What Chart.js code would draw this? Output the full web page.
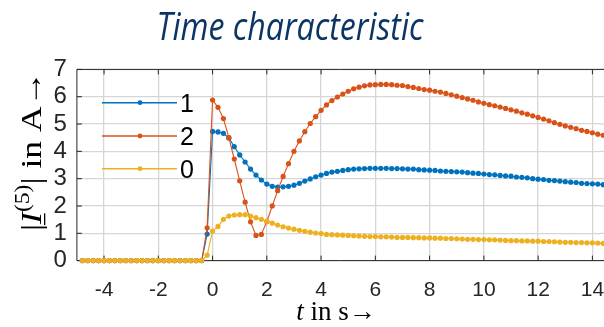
<!DOCTYPE html>
<html><head><meta charset="utf-8">
<script src="https://cdn.jsdelivr.net/npm/chart.js@4/dist/chart.umd.min.js"></script>
<style>html,body{margin:0;padding:0;background:#fff;overflow:hidden}canvas{display:block}</style>
</head><body>
<canvas id="c" width="604" height="327"></canvas>
<script>
// ---- data ----
const timeS = [-4.8,-4.6,-4.4,-4.2,-4.0,-3.8,-3.6,-3.4,-3.2,-3.0,-2.8,-2.6,-2.4,-2.2,-2.0,-1.8,-1.6,-1.4,-1.2,-1.0,-0.8,-0.6,-0.4,
  -0.2,0.0,0.2,0.4,0.6,0.8,1.0,1.2,1.4,1.6,1.8,2.0,2.2,2.4,2.6,2.8,3.0,3.2,3.4,3.6,3.8,4.0,4.2,4.4,4.6,4.8,5.0,
  5.2,5.4,5.6,5.8,6.0,6.2,6.4,6.6,6.8,7.0,7.2,7.4,7.6,7.8,8.0,8.2,8.4,8.6,8.8,9.0,9.2,9.4,9.6,9.8,10.0,
  10.2,10.4,10.6,10.8,11.0,11.2,11.4,11.6,11.8,12.0,12.2,12.4,12.6,12.8,13.0,13.2,13.4,13.6,13.8,14.0,14.2,14.4];
const seriesNames = ['1', '2', '0'];
const current1 = [0,0,0,0,0,0,0,0,0,0,0,0,0,0,0,0,0,0,0,0,0,0,0,
  0.97,4.73,4.71,4.66,4.49,4.17,3.87,3.61,3.35,3.13,2.95,2.80,2.72,2.69,2.70,2.72,2.76,2.83,2.91,2.99,3.07,3.13,3.19,3.24,3.27,3.30,3.33,
  3.35,3.36,3.37,3.38,3.38,3.38,3.38,3.37,3.37,3.36,3.35,3.35,3.33,3.32,3.31,3.30,3.28,3.27,3.26,3.25,3.24,3.22,3.20,3.19,3.17,
  3.15,3.14,3.12,3.10,3.09,3.06,3.05,3.03,3.00,2.98,2.97,2.94,2.93,2.91,2.89,2.87,2.86,2.83,2.82,2.81,2.80,2.78];
const current2 = [0,0,0,0,0,0,0,0,0,0,0,0,0,0,0,0,0,0,0,0,0,0,0,
  1.20,5.88,5.61,5.20,4.50,3.72,2.92,2.14,1.42,0.92,0.96,1.43,2.00,2.56,3.08,3.55,4.00,4.38,4.72,5.02,5.27,5.50,5.70,5.86,5.99,6.10,6.20,
  6.29,6.35,6.40,6.43,6.44,6.45,6.45,6.44,6.42,6.41,6.37,6.34,6.30,6.26,6.24,6.20,6.17,6.12,6.07,6.02,5.97,5.92,5.87,5.81,5.76,
  5.71,5.67,5.62,5.57,5.52,5.47,5.41,5.36,5.30,5.24,5.18,5.12,5.05,4.99,4.93,4.88,4.83,4.77,4.73,4.68,4.63,4.59];
const current0 = [0,0,0,0,0,0,0,0,0,0,0,0,0,0,0,0,0,0,0,0,0,0,0,
  0.20,1.08,1.25,1.51,1.63,1.67,1.68,1.68,1.63,1.57,1.51,1.44,1.37,1.30,1.24,1.19,1.15,1.11,1.07,1.04,1.01,0.99,0.96,0.95,0.94,0.93,0.92,
  0.91,0.90,0.89,0.88,0.88,0.87,0.87,0.86,0.85,0.85,0.85,0.84,0.84,0.83,0.83,0.82,0.82,0.81,0.81,0.80,0.79,0.78,0.78,0.77,0.77,
  0.76,0.76,0.75,0.74,0.73,0.73,0.72,0.72,0.71,0.71,0.70,0.70,0.69,0.68,0.67,0.67,0.66,0.66,0.65,0.65,0.64,0.63];
const xTickValues = [-4, -2, 0, 2, 4, 6, 8, 10, 12, 14];
const yTickValues = [0, 1, 2, 3, 4, 5, 6, 7];
const chartTitle = 'Time characteristic';

// ---- styles ----
const colors = ['#0072BD', '#D95319', '#EDB120'];
const axisColor = '#262626';

function pts(ys){ return timeS.map((t, i) => ({x: t, y: ys[i]})); }
const seriesValues = [current1, current2, current0];

const datasets = seriesValues.map((ys, k) => ({
  label: seriesNames[k], data: pts(ys),
  borderColor: colors[k], backgroundColor: colors[k], borderWidth: 1.1,
  pointRadius: 2.6, pointBorderWidth: 0, pointBackgroundColor: colors[k], pointBorderColor: colors[k],
  tension: 0, order: 3 - k, clip: false
}));

function drawRich(ctx, parts, x, y, align){
  let total = 0;
  parts.forEach(p => { ctx.font = p.font; p.w = ctx.measureText(p.text).width; total += p.w; });
  let cx = align === 'center' ? x - total/2 : x;
  parts.forEach(p => {
    ctx.font = p.font;
    ctx.fillText(p.text, cx, y + (p.dy || 0));
    if (p.underline) ctx.fillRect(cx - 1, y + 3, p.w, 1.3);
    cx += p.w;
  });
  return total;
}
function measureRich(ctx, parts){
  let total = 0;
  parts.forEach(p => { ctx.font = p.font; total += ctx.measureText(p.text).width; });
  return total;
}

const decor = {
  id: 'decor',
  beforeDatasetsDraw(chart){
    const {ctx, chartArea: a, scales: {x, y}} = chart;
    ctx.save();
    ctx.strokeStyle = '#d6d6d6'; ctx.lineWidth = 1.3;
    ctx.beginPath();
    yTickValues.forEach(v => {
      const py = y.getPixelForValue(v);
      ctx.moveTo(a.right, py); ctx.lineTo(604, py);
    });
    ctx.stroke();
    ctx.strokeStyle = axisColor; ctx.lineWidth = 1;
    ctx.beginPath();
    ctx.moveTo(a.left, a.top); ctx.lineTo(604, a.top);
    ctx.moveTo(a.left, a.top); ctx.lineTo(a.left, a.bottom); ctx.lineTo(604, a.bottom);
    xTickValues.forEach(v => {
      const px = x.getPixelForValue(v);
      ctx.moveTo(px, a.bottom); ctx.lineTo(px, a.bottom - 5);
      ctx.moveTo(px, a.top); ctx.lineTo(px, a.top + 5);
    });
    yTickValues.forEach(v => {
      const py = y.getPixelForValue(v);
      ctx.moveTo(a.left, py); ctx.lineTo(a.left + 5, py);
    });
    ctx.stroke();
    ctx.restore();
  },
  afterDraw(chart){
    const {ctx} = chart;
    // title
    ctx.save();
    ctx.fillStyle = '#0b3564';
    ctx.font = 'italic 38px "Open Sans"';
    const w = ctx.measureText(chartTitle).width;
    ctx.translate(290, 40);
    ctx.scale(267 / w, 1);
    ctx.textAlign = 'center'; ctx.textBaseline = 'alphabetic';
    ctx.fillText(chartTitle, 0, 0);
    ctx.restore();

    // x axis title
    ctx.save();
    ctx.fillStyle = '#000';
    ctx.textBaseline = 'alphabetic'; ctx.textAlign = 'left';
    drawRich(ctx, [
      {text: 't', font: 'italic 27px "Liberation Serif"'},
      {text: ' in s\u2192', font: '27px "Liberation Serif"'}
    ], 336, 320, 'center');
    ctx.restore();

    // y axis title
    ctx.save();
    ctx.fillStyle = '#000';
    ctx.translate(41, 151);
    ctx.rotate(-Math.PI / 2);
    ctx.textBaseline = 'alphabetic'; ctx.textAlign = 'left';
    const yParts = [
      {text: '|', font: '30px "Liberation Serif"'},
      {text: 'I', font: 'italic 30px "Liberation Serif"', underline: true},
      {text: '(5)', font: '20px "Liberation Serif"', dy: -12},
      {text: '|', font: '30px "Liberation Serif"'},
      {text: ' in A\u2192', font: '30px "Liberation Serif"'}
    ];
    const tw = measureRich(ctx, yParts);
    ctx.scale(160 / tw, 1);
    drawRich(ctx, yParts, 0, 0, 'center');
    ctx.restore();

    // legend
    ctx.save();
    const rows = [102.7, 136, 168.7];
    rows.forEach((ry, k) => {
      ctx.strokeStyle = colors[k]; ctx.lineWidth = 1.5;
      ctx.beginPath(); ctx.moveTo(102, ry); ctx.lineTo(177, ry); ctx.stroke();
      ctx.fillStyle = colors[k];
      ctx.beginPath(); ctx.arc(140, ry, 2.4, 0, Math.PI * 2); ctx.fill();
      ctx.fillStyle = '#000';
      ctx.font = '25px "Liberation Sans"';
      ctx.textBaseline = 'middle'; ctx.textAlign = 'left';
      ctx.fillText(seriesNames[k], 180, ry + 2);
    });
    ctx.restore();
  }
};

new Chart(document.getElementById('c'), {
  type: 'line',
  data: { datasets },
  options: {
    responsive: false, devicePixelRatio: 1, animation: false, events: [],
    layout: { padding: { top: 69.4, left: 0, right: 0, bottom: 0 } },
    plugins: { legend: { display: false }, title: { display: false }, tooltip: { enabled: false } },
    scales: {
      x: {
        type: 'linear', min: -5, max: 14.28,
        afterBuildTicks: s => { s.ticks = xTickValues.map(v => ({value: v})); },
        afterFit: s => { s.height = 327 - 260.6; s.paddingLeft = 0; s.paddingRight = 0; },
        grid: { color: '#d6d6d6', lineWidth: 1.3, drawTicks: false }, border: { display: false },
        ticks: { color: axisColor, font: { family: 'Liberation Sans', size: 21 }, padding: 17, maxRotation: 0, autoSkip: false, callback: v => String(v) }
      },
      y: {
        min: 0, max: 7,
        afterBuildTicks: s => { s.ticks = yTickValues.map(v => ({value: v})); },
        afterFit: s => { s.width = 76.9; s.paddingTop = 0; s.paddingBottom = 0; },
        grid: { color: '#d6d6d6', lineWidth: 1.3, drawTicks: false }, border: { display: false },
        ticks: { color: axisColor, font: { family: 'Liberation Sans', size: 24 }, padding: 10, autoSkip: false, callback: v => String(v) }
      }
    }
  },
  plugins: [decor]
});
</script>
</body></html>
